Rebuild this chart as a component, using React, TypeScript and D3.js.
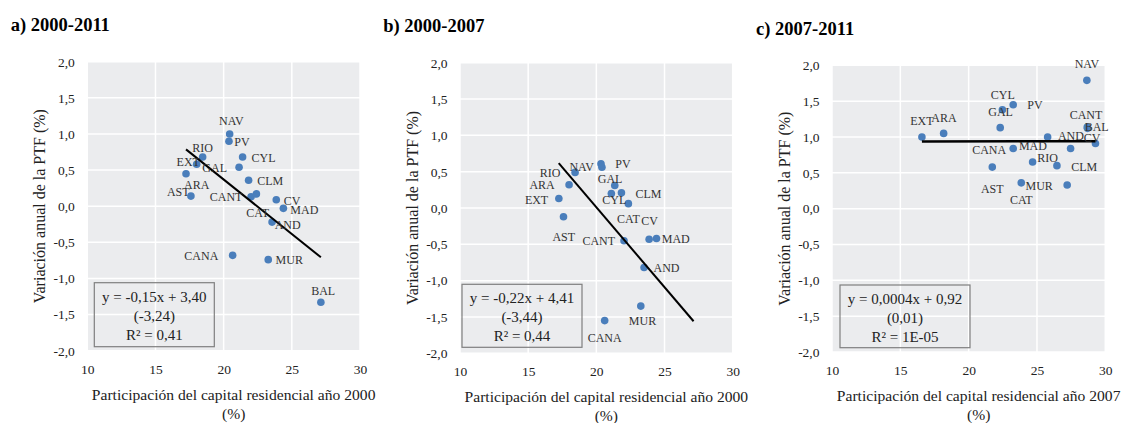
import React, { useRef, useEffect } from 'react';
import * as d3 from 'd3';

// a) 2000-2011
const REGIONS_A = ['NAV', 'PV', 'RIO', 'EXT', 'GAL', 'CYL', 'ARA', 'AST', 'CLM', 'CANT', 'CAT', 'CV', 'MAD', 'AND', 'CANA', 'MUR', 'BAL'];
const SHARE_A = [20.44, 20.39, 18.46, 18.02, 21.13, 21.39, 17.24, 17.6, 21.83, 22.01, 22.4, 23.86, 24.38, 23.55, 20.66, 23.27, 27.13];
const PTF_A = [1.0, 0.9, 0.68, 0.58, 0.54, 0.68, 0.45, 0.14, 0.36, 0.13, 0.17, 0.09, -0.03, -0.22, -0.68, -0.74, -1.33];
const LABEL_OFFSET_A: [number, number][] = [
  [1.7, -12.6], [13, 1], [0, -9.4], [-8.4, -2.6], [-24.4, 1.3], [21, 1.3], [10.7, 11], [-12.7, -4], [21.7, 0.7],
  [-25, 0.4], [1.3, 19], [15.7, 1], [21, 1.3], [15.6, 2.7], [-31.3, 1], [21, 0.4], [2.3, -11.7],
];

// b) 2000-2007 (BAL falls below the axis range)
const REGIONS_B = ['RIO', 'NAV', 'PV', 'ARA', 'EXT', 'AST', 'GAL', 'CYL', 'CLM', 'CAT', 'CV', 'MAD', 'CANT', 'AND', 'MUR', 'CANA'];
const SHARE_B = [18.44, 20.34, 20.41, 18.0, 17.25, 17.59, 21.35, 21.1, 21.84, 22.35, 23.87, 24.41, 22.03, 23.5, 23.26, 20.61];
const PTF_B = [0.49, 0.61, 0.56, 0.32, 0.13, -0.12, 0.31, 0.2, 0.21, 0.06, -0.43, -0.42, -0.45, -0.82, -1.35, -1.55];
const LABEL_OFFSET_B: [number, number][] = [
  [-25, 0.4], [-19.3, 3.3], [21, -3], [-27, 0.4], [-22.3, 1], [0.3, 20.4], [-4.7, -6], [3, 6.3], [27, 1],
  [0, 15], [0.4, -18.3], [19.3, 0], [-25.3, 0.6], [22.4, 0.4], [1.7, 15], [0, 17],
];

// c) 2007-2011
const REGIONS_C = ['NAV', 'CYL', 'PV', 'GAL', 'EXT', 'ARA', 'CANT', 'BAL', 'AND', 'CV', 'RIO', 'MAD', 'CANA', 'AST', 'CLM', 'CAT', 'MUR'];
const SHARE_C = [28.65, 22.47, 23.26, 22.31, 16.58, 18.17, 28.68, 28.7, 27.46, 29.28, 25.78, 24.68, 23.26, 21.73, 26.46, 23.85, 27.21];
const PTF_C = [1.79, 1.38, 1.45, 1.13, 1.0, 1.05, 1.14, 1.12, 0.84, 0.91, 1.0, 0.65, 0.84, 0.58, 0.6, 0.36, 0.33];
const LABEL_OFFSET_C: [number, number][] = [
  [0, -16], [0.4, -15], [21.7, 0.4], [0.4, -15.7], [0, -16.3], [0.3, -15.4], [-1.3, -11.5], [9.1, -0.9], [0.3, -12],
  [-3.3, -5.7], [0, 20.7], [0.3, -15.7], [-24, 1.3], [0, 21.6], [27.3, 1.7], [0, 16.8], [-28, 1.4],
];

const X_TICKS = [10, 15, 20, 25, 30];
const Y_TICKS = [-2, -1.5, -1, -0.5, 0, 0.5, 1, 1.5, 2];

const EQ_A = ['y = -0,15x + 3,40', '(-3,24)', 'R² = 0,41'];
const EQ_B = ['y = -0,22x + 4,41', '(-3,44)', 'R² = 0,44'];
const EQ_C = ['y = 0,0004x + 0,92', '(0,01)', 'R² = 1E-05'];

const FONT = '"Liberation Serif", "Times New Roman", serif';
const es = d3.formatLocale({ decimal: ',', thousands: '.', grouping: [3], currency: ['', ''], minus: '-' });
const fmtY = es.format('.1f');

interface Panel {
  title: string;
  titleX: number;
  titleY: number;
  left: number;
  top: number;
  right: number;
  bottom: number;
  regions: string[];
  xs: number[];
  ys: number[];
  offsets: [number, number][];
  slope: number;
  intercept: number;
  trendXs: number[];
  lineWidth: number;
  eq: string[];
  eqBox: [number, number, number, number];
  xTitle: string;
}

const PANELS: Panel[] = [
  {
    title: 'a) 2000-2011', titleX: 10.7, titleY: 31,
    left: 87.3, top: 61.7, right: 360, bottom: 350.7,
    regions: REGIONS_A, xs: SHARE_A, ys: PTF_A, offsets: LABEL_OFFSET_A,
    slope: -0.151, intercept: 3.39, trendXs: SHARE_A, lineWidth: 2,
    eq: EQ_A, eqBox: [94.3, 282.7, 214.3, 346.7],
    xTitle: 'Participación del capital residencial año 2000',
  },
  {
    title: 'b) 2000-2007', titleX: 383.3, titleY: 32,
    left: 460, top: 62.7, right: 732.7, bottom: 353.3,
    regions: REGIONS_B, xs: SHARE_B, ys: PTF_B, offsets: LABEL_OFFSET_B,
    slope: -0.22, intercept: 4.41, trendXs: SHARE_A, lineWidth: 2,
    eq: EQ_B, eqBox: [462, 284.3, 582, 347.3],
    xTitle: 'Participación del capital residencial año 2000',
  },
  {
    title: 'c) 2007-2011', titleX: 756, titleY: 35,
    left: 832, top: 65.3, right: 1105.3, bottom: 352,
    regions: REGIONS_C, xs: SHARE_C, ys: PTF_C, offsets: LABEL_OFFSET_C,
    slope: 0.0004, intercept: 0.93, trendXs: SHARE_C, lineWidth: 2.5,
    eq: EQ_C, eqBox: [840, 285, 970, 347.7],
    xTitle: 'Participación del capital residencial año 2007',
  },
];

function drawPanel(root: d3.Selection<SVGSVGElement, unknown, null, undefined>, p: Panel) {
  const x = d3.scaleLinear().domain([10, 30]).range([p.left, p.right]);
  const y = d3.scaleLinear().domain([-2, 2]).range([p.bottom, p.top]);
  const g = root.append('g').attr('font-family', FONT);

  g.append('text')
    .attr('x', p.titleX)
    .attr('y', p.titleY)
    .attr('font-size', 18.5)
    .attr('font-weight', 'bold')
    .attr('fill', '#000')
    .text(p.title);

  // plot area + white grid
  g.append('rect')
    .attr('x', p.left)
    .attr('y', p.top)
    .attr('width', p.right - p.left)
    .attr('height', p.bottom - p.top)
    .attr('fill', '#ebecee');

  g.append('g')
    .selectAll('line')
    .data(X_TICKS)
    .join('line')
    .attr('x1', d => x(d))
    .attr('x2', d => x(d))
    .attr('y1', p.top)
    .attr('y2', p.bottom)
    .attr('stroke', '#fff')
    .attr('stroke-width', 1.5);

  g.append('g')
    .selectAll('line')
    .data(Y_TICKS)
    .join('line')
    .attr('x1', p.left)
    .attr('x2', p.right)
    .attr('y1', d => y(d))
    .attr('y2', d => y(d))
    .attr('stroke', '#fff')
    .attr('stroke-width', 1.5);

  // axes
  const ya = g.append('g')
    .attr('transform', `translate(${p.left},0)`)
    .call(d3.axisLeft(y).tickValues(Y_TICKS).tickSize(0).tickPadding(12.5).tickFormat(d => fmtY(d as number)));
  ya.select('.domain').remove();
  ya.selectAll('text').attr('font-size', 13.5).attr('fill', '#222').attr('font-family', FONT);

  const xa = g.append('g')
    .attr('transform', `translate(0,${p.bottom})`)
    .call(d3.axisBottom(x).tickValues(X_TICKS).tickSize(0).tickPadding(13.5).tickFormat(d3.format('d')));
  xa.select('.domain').remove();
  xa.selectAll('text').attr('font-size', 13.5).attr('fill', '#222').attr('font-family', FONT);

  // axis titles
  g.append('text')
    .attr('transform', `translate(${p.left - 48},${(p.top + p.bottom) / 2}) rotate(-90)`)
    .attr('text-anchor', 'middle')
    .attr('dominant-baseline', 'central')
    .attr('font-size', 16)
    .attr('fill', '#222')
    .text('Variación anual de la PTF (%)');

  const cx = (p.left + p.right) / 2 + 10;
  g.append('text')
    .attr('x', cx)
    .attr('y', p.bottom + 43.5)
    .attr('text-anchor', 'middle')
    .attr('dominant-baseline', 'central')
    .attr('font-size', 15.6)
    .attr('fill', '#222')
    .text(p.xTitle);
  g.append('text')
    .attr('x', cx)
    .attr('y', p.bottom + 62.5)
    .attr('text-anchor', 'middle')
    .attr('dominant-baseline', 'central')
    .attr('font-size', 15.6)
    .attr('fill', '#222')
    .text('(%)');

  // points
  const idx = d3.range(p.xs.length);
  g.append('g')
    .selectAll('circle')
    .data(idx)
    .join('circle')
    .attr('cx', i => x(p.xs[i]))
    .attr('cy', i => y(p.ys[i]))
    .attr('r', 3.8)
    .attr('fill', '#4a7ebb');

  // linear trend
  const [x0, x1] = d3.extent(p.trendXs) as [number, number];
  const line = d3.line<number>().x(d => x(d)).y(d => y(p.slope * d + p.intercept));
  g.append('path')
    .attr('d', line([x0, x1]))
    .attr('stroke', '#000')
    .attr('stroke-width', p.lineWidth)
    .attr('fill', 'none');

  // region labels
  g.append('g')
    .selectAll('text')
    .data(idx)
    .join('text')
    .attr('x', i => x(p.xs[i]) + p.offsets[i][0])
    .attr('y', i => y(p.ys[i]) + p.offsets[i][1])
    .attr('text-anchor', 'middle')
    .attr('dominant-baseline', 'central')
    .attr('font-size', 12)
    .attr('fill', '#333')
    .text(i => p.regions[i]);

  // equation box
  const [bl, bt, br, bb] = p.eqBox;
  g.append('rect')
    .attr('x', bl)
    .attr('y', bt)
    .attr('width', br - bl)
    .attr('height', bb - bt)
    .attr('fill', 'none')
    .attr('stroke', '#7f7f7f')
    .attr('stroke-width', 1.2);
  g.append('g')
    .selectAll('text')
    .data(p.eq)
    .join('text')
    .attr('x', (bl + br) / 2)
    .attr('y', (_, i) => bt + 14 + i * 19)
    .attr('text-anchor', 'middle')
    .attr('dominant-baseline', 'central')
    .attr('font-size', 15)
    .attr('fill', '#222')
    .text(d => d);
}

const App: React.FC = () => {
  const svgRef = useRef<SVGSVGElement>(null);

  useEffect(() => {
    if (!svgRef.current) return;
    const svg = d3.select(svgRef.current);
    svg.selectAll('*').remove();
    PANELS.forEach(p => drawPanel(svg, p));
  }, []);

  return (
    <div style={{ position: 'absolute', left: 0, top: 0 }}>
      <svg ref={svgRef} width={1123} height={423} style={{ display: 'block', background: '#fff' }} />
    </div>
  );
};

export default App;
